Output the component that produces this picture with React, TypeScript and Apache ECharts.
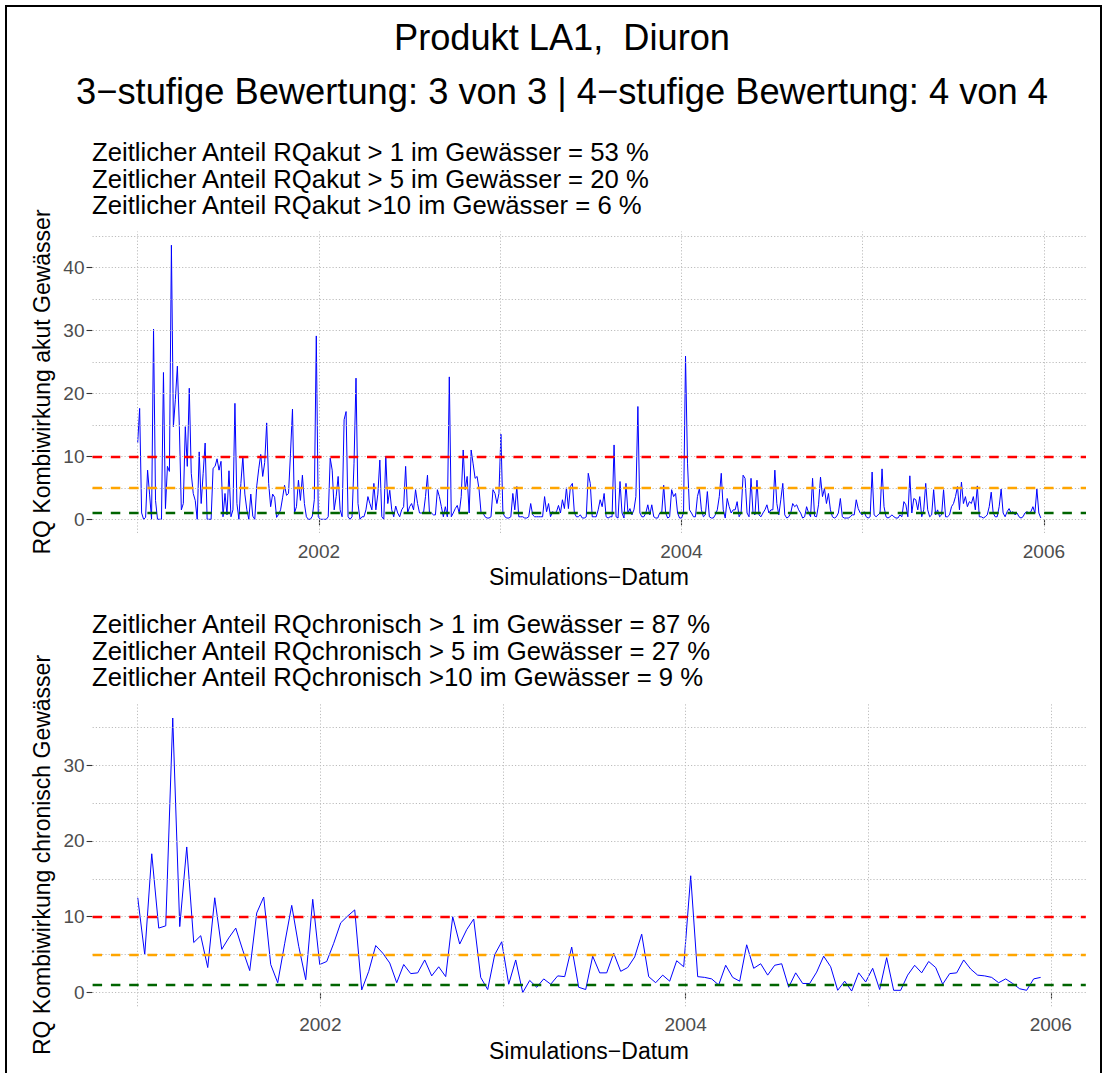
import React, { useEffect, useRef } from "react";
import * as echarts from "echarts";

// Acute combined-effect risk quotient, one value every 4 days from 2001-01-01
const akutStepDays = 4;
const akutValues = [
  12.1, 17.6, 1.0, 0, 0.3, 7.8, 4.0, 0, 30.2, 3.0,
  0, 0, 0, 23.3, 1.7, 8.4, 7.6, 43.5, 14.7, 19.0,
  24.3, 14.7, 1.5, 2.5, 14.7, 8.4, 20.8, 7.3, 4.1, 3.0,
  0, 10.7, 2.5, 7.3, 12.1, 0, 0, 0, 8.1, 8.4,
  9.6, 7.8, 9.2, 0.4, 4.1, 0.7, 7.7, 0.4, 1.5, 18.4,
  2.5, 0, 5.7, 10.0, 4.0, 1.5, 0, 4.0, 0.5, 0,
  5.3, 8.0, 10.3, 6.8, 9.0, 15.3, 5.7, 2.0, 4.0, 3.5,
  0.3, 0.8, 1.5, 3.4, 5.4, 3.8, 4.1, 10.5, 17.5, 1.0,
  2.0, 6.2, 3.0, 7.0, 2.5, 0.4, 0, 0, 0.5, 3.1,
  29.1, 0.4, 0, 0, 0, 0, 0.4, 9.7, 7.8, 1.5,
  3.6, 6.8, 1.5, 0.4, 15.8, 17.1, 0.4, 0, 0.4, 8.9,
  22.4, 2.5, 0, 0.4, 0.4, 1.5, 3.6, 2.5, 1.5, 5.7,
  1.5, 4.0, 9.4, 0.4, 0, 10.0, 2.5, 4.6, 1.5, 0.4,
  2.1, 1.0, 0.4, 1.5, 2.0, 8.4, 1.0, 2.0, 2.5, 1.5,
  4.7, 2.5, 1.0, 1.0, 1.0, 3.6, 7.0, 1.0, 1.0, 0.7,
  0.7, 4.7, 3.6, 2.0, 0.4, 2.0, 0.4, 22.6, 0.4, 1.0,
  1.7, 2.2, 1.0, 3.6, 11.0, 4.7, 6.8, 1.0, 11.0, 8.8,
  6.5, 6.8, 4.7, 1.0, 1.0, 0.4, 0.2, 0.2, 0.4, 4.7,
  4.1, 2.5, 4.1, 13.5, 1.0, 0.4, 0.2, 0.2, 0.4, 4.1,
  1.5, 5.2, 0.4, 0.4, 0.4, 0.2, 0.2, 0.4, 2.5, 0.7,
  0.4, 0.4, 0.4, 0.4, 0.4, 3.6, 1.2, 2.5, 0.4, 1.2,
  1.0, 1.2, 2.2, 1.0, 3.1, 1.7, 5.0, 1.7, 5.2, 5.7,
  1.0, 0.4, 0.4, 0.7, 0.2, 0.2, 0.4, 7.3, 5.7, 0.4,
  0.4, 0.4, 1.5, 3.1, 2.0, 4.1, 0.4, 0.2, 0.4, 0.4,
  11.8, 0.4, 0.2, 6.0, 1.0, 0.2, 5.7, 1.0, 1.7, 0.7,
  1.5, 3.6, 17.9, 1.0, 0.4, 0.4, 1.0, 2.3, 0.7, 2.3,
  0.4, 0.2, 0.2, 1.0, 1.0, 5.4, 1.0, 0.2, 0.4, 4.7,
  3.6, 4.1, 1.0, 0.2, 0.2, 1.0, 25.9, 8.9, 1.5, 1.0,
  0.4, 0.4, 3.6, 4.9, 1.5, 0.4, 0.7, 4.4, 0.4, 0.2,
  0.2, 0.7, 1.5, 3.6, 7.3, 1.5, 0.2, 3.3, 2.0, 1.0,
  1.5, 1.5, 2.8, 0.4, 1.0, 7.0, 6.5, 1.0, 0.4, 6.5,
  1.0, 0.7, 6.2, 0.7, 0.4, 1.0, 1.5, 2.3, 1.0, 1.5,
  1.5, 7.8, 2.5, 0.7, 3.1, 5.7, 0.7, 0.2, 0.4, 1.0,
  2.5, 2.0, 2.3, 1.5, 1.0, 0.2, 0.4, 2.0, 1.0, 0.4,
  6.5, 0.5, 0.4, 2.3, 6.7, 3.6, 4.9, 2.5, 4.1, 1.5,
  0.4, 0.2, 0.4, 1.0, 3.3, 0.4, 0.2, 0.2, 0.2, 0.4,
  0.7, 0.7, 3.1, 1.7, 1.0, 0.7, 1.2, 0.4, 0.2, 0.4,
  7.5, 0.7, 0.4, 0.7, 1.0, 8.0, 2.0, 0.4, 0.2, 0.4,
  0.7, 0.4, 0.2, 0.2, 0.7, 0.4, 2.8, 2.3, 0.4, 6.9,
  1.0, 3.3, 3.1, 1.5, 3.6, 0.4, 1.5, 5.7, 1.5, 0.4,
  0.7, 4.7, 0.7, 1.5, 0.4, 0.7, 4.7, 0.4, 0.4, 0.7,
  2.0, 2.5, 3.6, 5.2, 1.5, 5.9, 2.5, 3.6, 2.0, 2.8,
  2.5, 3.6, 1.5, 5.3, 0.4, 0.4, 0.2, 0.4, 0.7, 2.0,
  4.3, 1.0, 0.4, 0.4, 2.0, 4.8, 1.0, 0.4, 1.2, 1.7,
  1.0, 1.2, 0.7, 1.0, 0.4, 0.2, 0.4, 1.0, 1.2, 1.0,
  1.2, 2.0, 1.0, 4.8, 1.0, 0.2,
];

// Chronic combined-effect risk quotient, one value every 14 days from 2001-01-01
const chronStepDays = 14;
const chronValues = [
  12.5, 5.0, 18.3, 8.5, 8.8, 36.2, 8.7, 19.2, 6.6, 7.5,
  3.3, 12.5, 5.7, 7.2, 8.5, 5.6, 2.9, 10.5, 12.6, 3.7,
  1.3, 6.5, 11.5, 6.1, 1.7, 12.3, 3.7, 4.1, 6.5, 9.2,
  10.1, 10.9, 0.35, 2.8, 6.2, 5.2, 3.9, 1.3, 3.7, 2.5,
  2.6, 4.3, 2.2, 3.4, 2.1, 10.0, 6.4, 8.3, 9.7, 2.0,
  0.4, 5.0, 6.7, 1.1, 4.3, 0, 1.6, 0.7, 1.8, 1.1,
  2.2, 2.1, 6.0, 0.7, 0.4, 4.8, 2.6, 2.6, 5.2, 2.8,
  3.3, 4.7, 7.7, 2.1, 1.3, 2.3, 1.5, 4.2, 3.4, 15.4,
  2.1, 2.0, 1.8, 1.0, 3.6, 2.0, 1.5, 6.3, 3.2, 3.8,
  2.3, 3.6, 3.8, 0.7, 2.6, 1.2, 1.2, 2.7, 4.8, 3.4,
  0.3, 1.5, 0.2, 2.6, 1.4, 3.2, 0.4, 4.6, 0.3, 0.3,
  2.3, 3.6, 2.6, 4.1, 3.3, 1.1, 2.5, 2.6, 4.3, 3.1,
  2.3, 2.2, 2.0, 1.3, 1.8, 1.2, 0.5, 0.3, 1.8, 2.0,
];

const startYear = 2001;
const thresholds = [
  { value: 10, color: "#FF0000" },
  { value: 5, color: "#FFA500" },
  { value: 1, color: "#006400" },
];
const xTickYears = [2002, 2004, 2006];
const xGridYears = [2001, 2002, 2003, 2004, 2005, 2006];
const yTicksAkut = [0, 10, 20, 30, 40];
const yTicksChron = [0, 10, 20, 30];
const yGridStep = 5;

const titleLines = [
  "Produkt LA1,  Diuron",
  "3\u2212stufige Bewertung: 3 von 3 | 4\u2212stufige Bewertung: 4 von 4",
];
const akutInfo = [
  "Zeitlicher Anteil RQakut > 1 im Gewässer = 53 %",
  "Zeitlicher Anteil RQakut > 5 im Gewässer = 20 %",
  "Zeitlicher Anteil RQakut >10 im Gewässer = 6 %",
];
const chronInfo = [
  "Zeitlicher Anteil RQchronisch > 1 im Gewässer = 87 %",
  "Zeitlicher Anteil RQchronisch > 5 im Gewässer = 27 %",
  "Zeitlicher Anteil RQchronisch >10 im Gewässer = 9 %",
];
const xAxisTitle = "Simulations\u2212Datum";
const yAxisTitleAkut = "RQ Kombiwirkung akut Gewässer";
const yAxisTitleChron = "RQ Kombiwirkung chronisch Gewässer";

const FONT = '"Liberation Sans", Arial, Helvetica, sans-serif';

function toSeries(values: number[], stepDays: number): number[][] {
  return values.map((v, i) => [startYear + (i * stepDays) / 365.25, v]);
}

// ggplot-style 5% expansion of a continuous range
function expand(lo: number, hi: number): [number, number] {
  const pad = (hi - lo) * 0.05;
  return [lo - pad, hi + pad];
}

export default function App() {
  const ref = useRef<HTMLDivElement>(null);

  useEffect(() => {
    if (!ref.current) return;
    const chart = echarts.init(ref.current, undefined, { renderer: "svg" });

    const akutData = toSeries(akutValues, akutStepDays);
    const chronData = toSeries(chronValues, chronStepDays);

    const panels = [
      { data: akutData, values: akutValues, yTicks: yTicksAkut },
      { data: chronData, values: chronValues, yTicks: yTicksChron },
    ];

    const grids = [
      { left: 92.5, top: 231.5, width: 993.5, height: 301.5 },
      { left: 92.6, top: 704.3, width: 993.2, height: 302 },
    ];

    const xAxes: any[] = [];
    const yAxes: any[] = [];
    const series: any[] = [];

    panels.forEach((p, idx) => {
      const xs = p.data.map((d) => d[0]);
      const [xMin, xMax] = expand(Math.min(...xs), Math.max(...xs));
      const [yMin, yMax] = expand(Math.min(...p.values), Math.max(...p.values));

      xAxes.push({
        type: "value",
        gridIndex: idx,
        min: xMin,
        max: xMax,
        axisLine: { show: false },
        splitLine: { show: false },
        axisTick: {
          show: true,
          length: 6,
          customValues: xTickYears,
          lineStyle: { color: "#333333", width: 1.1 },
        },
        axisLabel: {
          show: true,
          customValues: xTickYears,
          margin: 9,
          fontSize: 19,
          fontFamily: FONT,
          color: "#4D4D4D",
          formatter: (v: number) => String(Math.round(v)),
        },
      });

      yAxes.push({
        type: "value",
        gridIndex: idx,
        min: yMin,
        max: yMax,
        axisLine: { show: false },
        splitLine: { show: false },
        axisTick: {
          show: true,
          length: 6,
          customValues: p.yTicks,
          lineStyle: { color: "#333333", width: 1.1 },
        },
        axisLabel: {
          show: true,
          customValues: p.yTicks,
          margin: 8,
          fontSize: 19,
          fontFamily: FONT,
          color: "#4D4D4D",
          formatter: (v: number) => String(Math.round(v)),
        },
      });

      const gridY: number[] = [];
      for (let v = Math.ceil(yMin / yGridStep) * yGridStep; v <= yMax; v += yGridStep) {
        gridY.push(v);
      }
      const gridX = xGridYears.filter((y) => y >= xMin && y <= xMax);

      // dotted panel grid
      series.push({
        type: "line",
        xAxisIndex: idx,
        yAxisIndex: idx,
        data: [],
        silent: true,
        z: 1,
        markLine: {
          silent: true,
          symbol: ["none", "none"],
          label: { show: false },
          emphasis: { disabled: true },
          lineStyle: { color: "#BDBDBD", width: 1, type: [1.2, 2] },
          data: [
            ...gridY.map((v) => ({ yAxis: v })),
            ...gridX.map((v) => ({ xAxis: v })),
          ],
        },
      });

      // the risk quotient series
      series.push({
        type: "line",
        xAxisIndex: idx,
        yAxisIndex: idx,
        data: p.data,
        showSymbol: false,
        symbol: "none",
        silent: true,
        z: 2,
        lineStyle: { color: "#0000FF", width: 1 },
      });

      // threshold lines at RQ = 10, 5, 1
      series.push({
        type: "line",
        xAxisIndex: idx,
        yAxisIndex: idx,
        data: [],
        silent: true,
        z: 3,
        markLine: {
          silent: true,
          symbol: ["none", "none"],
          label: { show: false },
          emphasis: { disabled: true },
          data: thresholds.map((t) => ({
            yAxis: t.value,
            lineStyle: { color: t.color, width: 2.4, type: [9.5, 8.8] },
          })),
        },
      });
    });

    const text = (
      str: string,
      x: number,
      y: number,
      size: number,
      align: string,
      rotation = 0
    ) => ({
      type: "text",
      x,
      y,
      rotation,
      silent: true,
      style: {
        text: str,
        x: 0,
        y: 0,
        fill: "#000000",
        fontSize: size,
        fontFamily: FONT,
        align,
        textAlign: align,
        verticalAlign: "middle",
        textVerticalAlign: "middle",
      },
    });

    const graphic: any[] = [
      {
        type: "rect",
        silent: true,
        shape: { x: 6, y: 6, width: 1095, height: 1100 },
        style: { fill: "none", stroke: "#000000", lineWidth: 2 },
      },
      text(titleLines[0], 562, 37, 36.2, "center"),
      text(titleLines[1], 562, 91, 36.3, "center"),
      ...akutInfo.map((s, i) => text(s, 92, 152 + i * 26.5, 25.7, "left")),
      ...chronInfo.map((s, i) => text(s, 92, 624 + i * 26.5, 25.7, "left")),
      text(xAxisTitle, 589, 577, 23, "center"),
      text(xAxisTitle, 589, 1051, 23, "center"),
      text(yAxisTitleAkut, 42, 382, 23, "center", Math.PI / 2),
      text(yAxisTitleChron, 42, 855, 23, "center", Math.PI / 2),
    ];

    chart.setOption({
      animation: false,
      backgroundColor: "#FFFFFF",
      textStyle: { fontFamily: FONT },
      grid: grids,
      xAxis: xAxes,
      yAxis: yAxes,
      series,
      graphic,
    });

    return () => chart.dispose();
  }, []);

  return (
    <div
      ref={ref}
      style={{ position: "absolute", left: 0, top: 0, width: 1109, height: 1073 }}
    />
  );
}
